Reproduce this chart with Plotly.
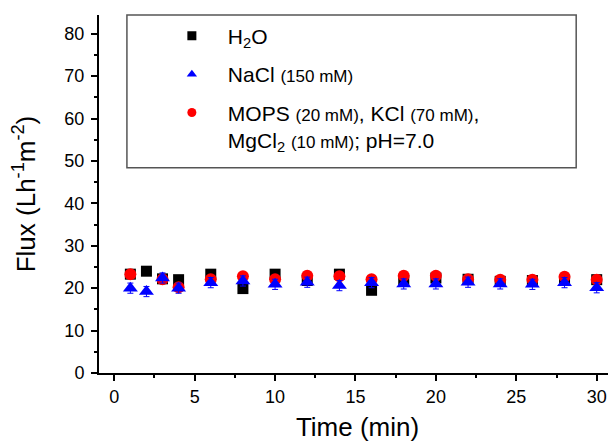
import plotly.graph_objects as go

# time points (min)
time_min = [1, 2, 3, 4, 6, 8, 10, 12, 14, 16, 18, 20, 22, 24, 26, 28, 30]

# flux values (L h-1 m-2)
flux_h2o = [23.3, 24.0, 22.2, 22.0, 23.3, 19.9, 23.3, 21.8, 23.3, 19.5, 21.8, 22.4, 22.1, 21.6, 21.8, 21.8, 22.0]
flux_nacl = [20.0, 19.2, 22.4, 20.0, 21.3, 21.7, 20.9, 21.4, 20.6, 21.3, 21.0, 21.0, 21.4, 21.0, 20.9, 21.3, 20.1]
flux_mops = [23.3, None, 22.1, 20.2, 22.1, 22.8, 22.1, 22.9, 22.8, 22.1, 22.9, 22.9, 22.1, 22.0, 22.0, 22.7, 22.0]

err_h2o = [0.6] * len(time_min)
err_nacl = [1.2] * len(time_min)
err_mops = [0.8] * len(time_min)

small = "<span style='font-size:17px'>"
names = [
    "H<sub>2</sub>O",
    f"NaCl {small}(150 mM)</span>",
    f"MOPS {small}(20 mM)</span>, KCl {small}(70 mM)</span>,<br>MgCl<sub>2</sub> {small}(10 mM)</span>; pH=7.0",
]

fig = go.Figure()

series = [
    (flux_h2o, err_h2o, "black", "square", 11),
    (flux_mops, err_mops, "red", "circle", 12),
    (flux_nacl, err_nacl, "blue", "triangle-up", 13),
]
for y, e, col, sym, sz in series:
    fig.add_trace(go.Scatter(
        x=time_min, y=y, mode="markers", showlegend=False,
        marker=dict(color=col, symbol=sym, size=sz),
        error_y=dict(type="data", array=e, color=col, thickness=1, width=3),
    ))

# legend entries (smaller symbols than the plotted points)
legend_items = [(names[0], "black", "square"), (names[1], "blue", "triangle-up"), (names[2], "red", "circle")]
for i, (nm, col, sym) in enumerate(legend_items):
    fig.add_trace(go.Scatter(
        x=[None], y=[None], mode="markers", name=nm, legendgroup=f"g{i}",
        marker=dict(color=col, symbol=sym, size=9),
    ))

fig.add_shape(type="rect", xref="paper", yref="paper",
              x0=0.054, x1=0.923, y0=0.573, y1=1.0,
              line=dict(color="#555555", width=1.5))

axis_common = dict(
    showline=True, linecolor="black", linewidth=2, mirror=False,
    ticks="outside", ticklen=6, tickwidth=2, tickcolor="black",
    showgrid=False, zeroline=False, automargin=False,
    tickfont=dict(size=18, color="black"),
)

fig.update_xaxes(range=[-0.95, 31.2], tickvals=[0, 5, 10, 15, 20, 25, 30],
                 minor=dict(ticks="outside", ticklen=3, tickwidth=2, tickcolor="black", dtick=2.5, tick0=0),
                 title=dict(text="Time (min)", font=dict(size=26, color="black"), standoff=12),
                 **axis_common)
fig.update_yaxes(range=[0, 84.4], dtick=10, tick0=0, ticklabelstandoff=3,
                 minor=dict(ticks="outside", ticklen=3, tickwidth=2, tickcolor="black", dtick=5, tick0=0),
                 title=dict(text="Flux (Lh<sup>-1</sup>m<sup>-2</sup>)", font=dict(size=26, color="black"), standoff=21),
                 **axis_common)

# the page adds an 8px body margin, so the figure is sized to fit the window after it
fig.update_layout(
    width=608, height=434,
    margin=dict(l=91, r=0, t=7, b=69),
    plot_bgcolor="white", paper_bgcolor="white",
    font=dict(family="Arial, Liberation Sans, sans-serif", color="black"),
    legend=dict(x=0.11, y=0.998, xanchor="left", yanchor="top",
                font=dict(size=21, color="black"), itemwidth=62,
                tracegroupgap=8, valign="top", bgcolor="rgba(0,0,0,0)"),
)

fig.write_html("out.html")
